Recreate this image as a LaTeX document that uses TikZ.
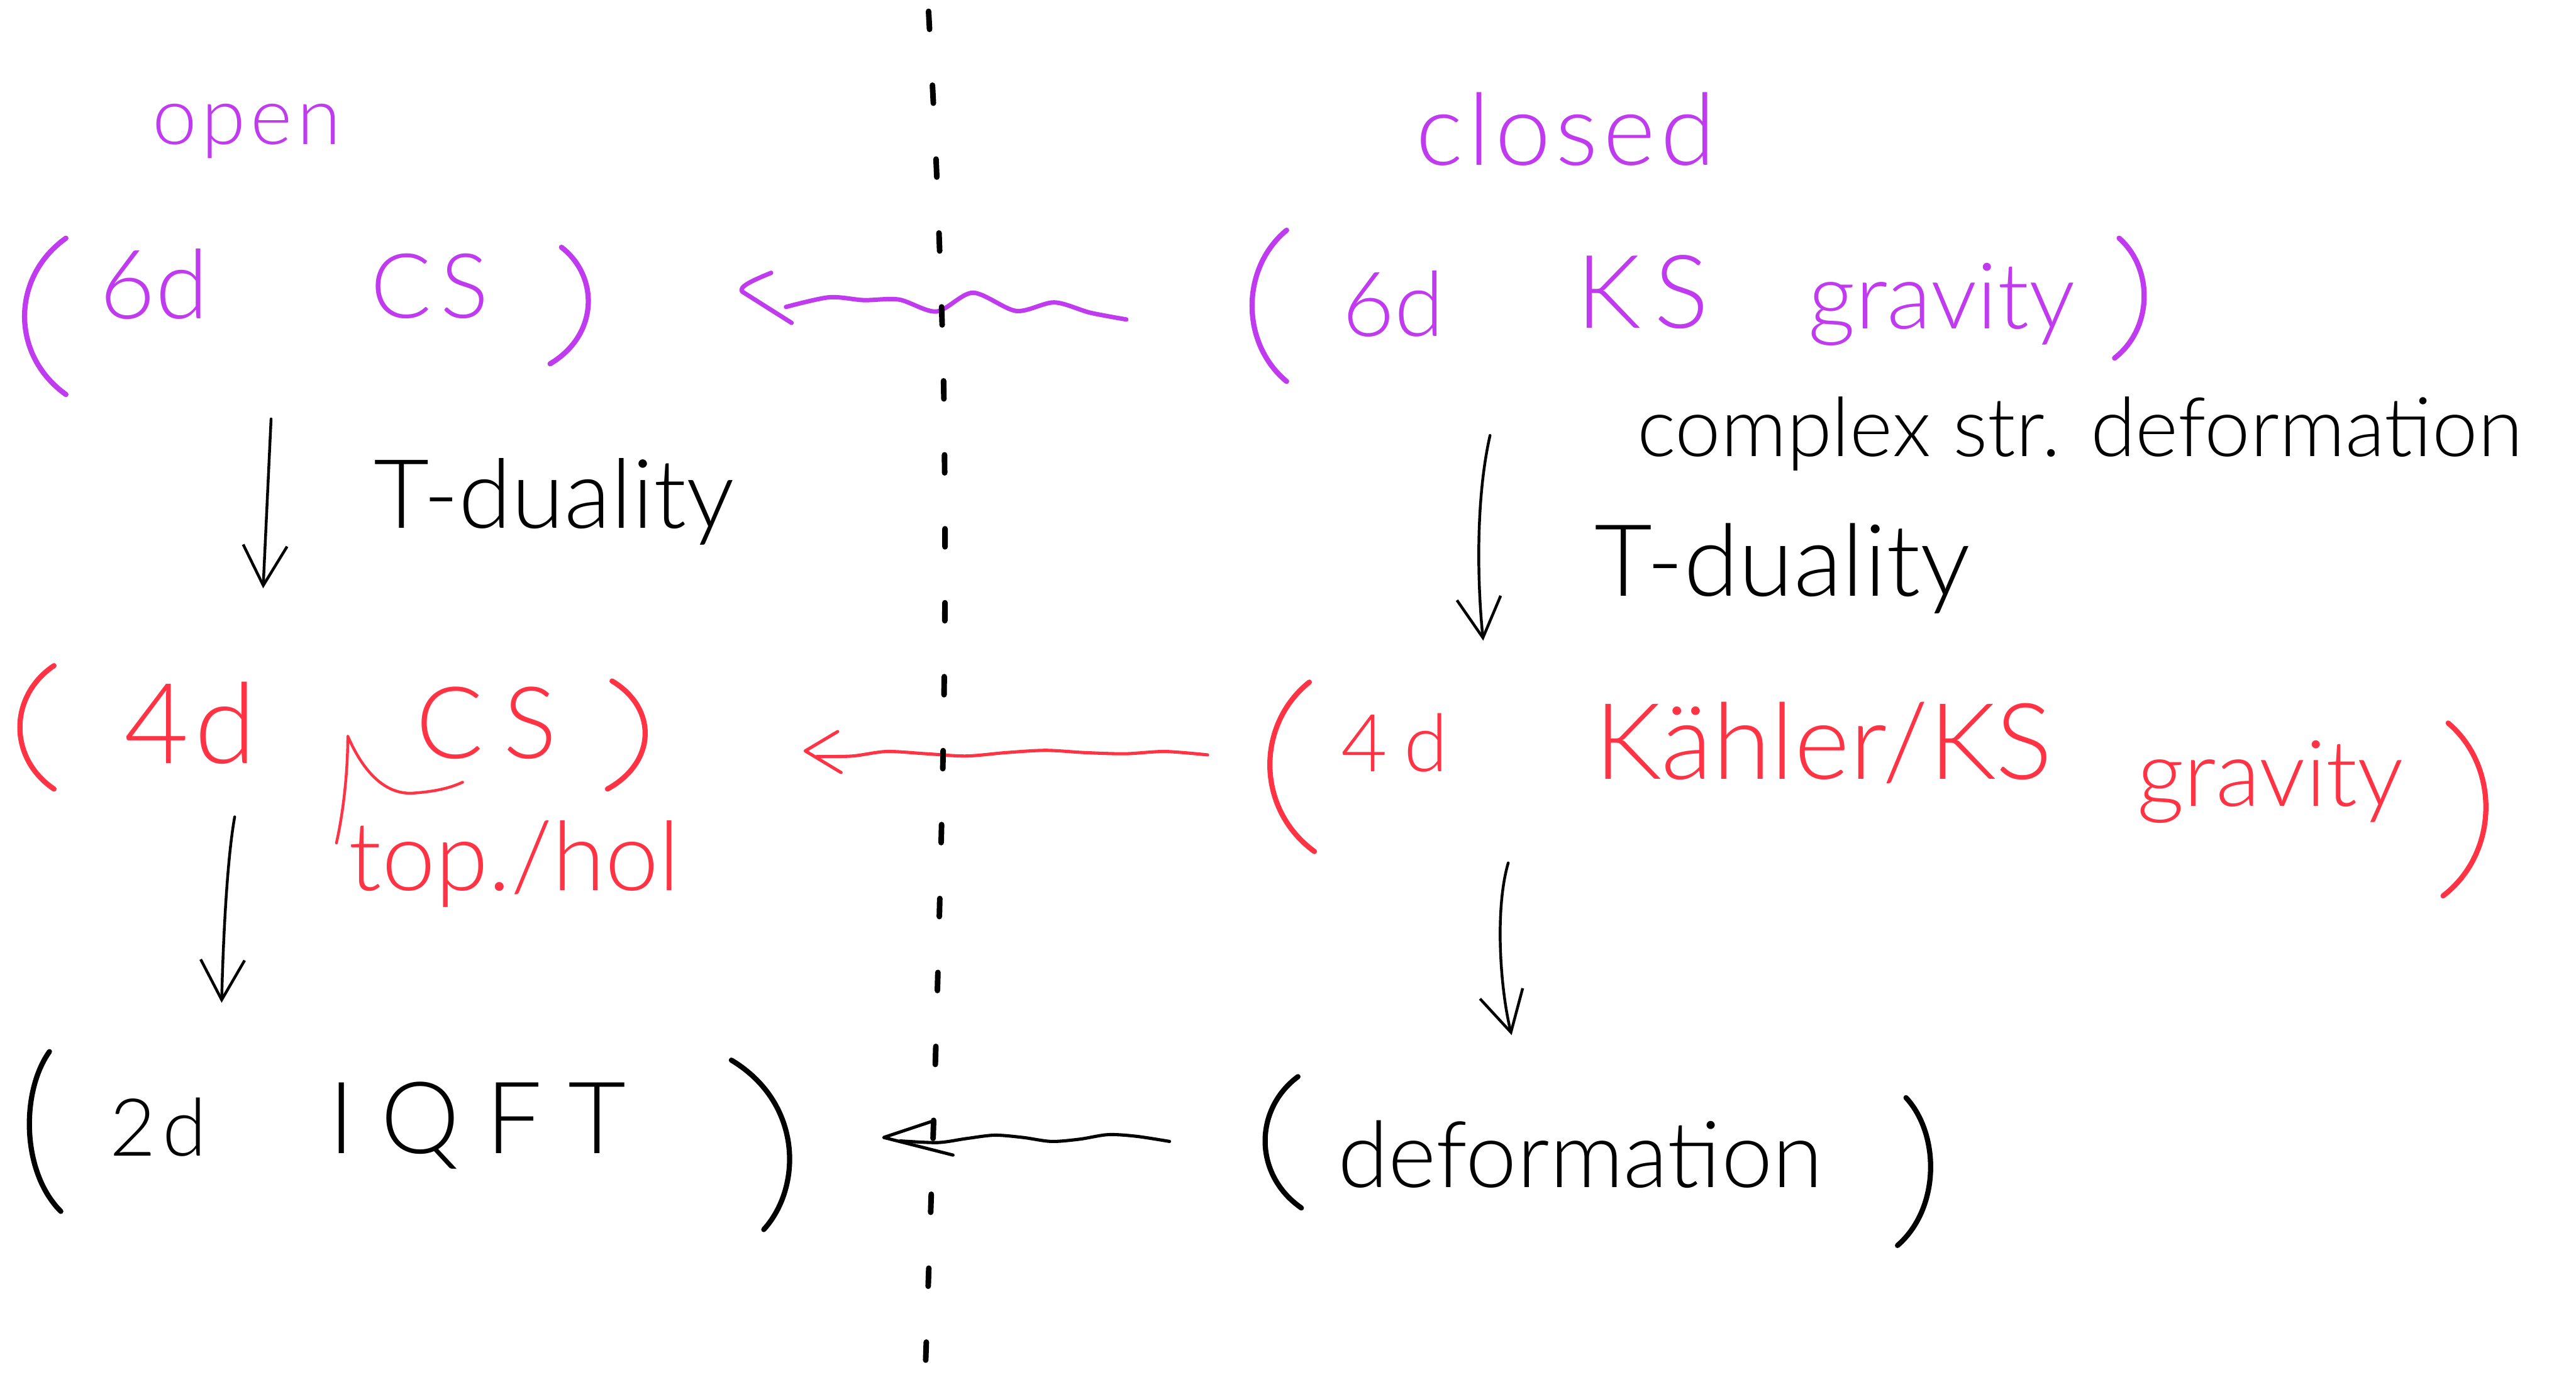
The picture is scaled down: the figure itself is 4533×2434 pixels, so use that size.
\documentclass[tikz,border=0pt]{standalone}
\usepackage{fontspec}
\setmainfont{Lato Light}
\usetikzlibrary{arrows.meta}
\definecolor{pur}{HTML}{C03AF0}
\definecolor{rd}{HTML}{FF3344}
\newcommand\fsz[1]{\fontsize{#1pt}{#1pt}\selectfont}
\newcommand\lsp[1]{\addfontfeature{LetterSpace=#1}}
\begin{document}
\begin{tikzpicture}[x=0.01cm,y=-0.01cm,
  lbl/.style={inner sep=0pt, outer sep=0pt, anchor=center},
  paren/.style={line width=2.6pt, line cap=round},
  wave/.style={line width=1.6pt, line cap=round, line join=round},
  darrow/.style={line width=1.4pt, line cap=round, -{Straight Barb[length=20pt,width=22pt,line width=1.4pt]}},
  dline/.style={line width=2.8pt, line cap=round, dash pattern=on 9pt off 28pt},
]
\useasboundingbox[fill=white] (0,0) rectangle (4533,2434);

% headings
\node[lbl,pur,font=\fsz{40}\lsp{6}] (open) at (434,231) {open};
\node[lbl,pur,font=\fsz{50}\lsp{5}] (closed) at (2755,227) {closed};

% row 1 left (purple)
\draw[paren,pur] (116,419) .. controls (19,488) and (19,625) .. (116,694);
\node[lbl,pur,font=\fsz{48}] (sixdL) at (271,500) {6d};
\node[lbl,pur,font=\fsz{45}\lsp{10}] (csL) at (756,503) {CS};
\draw[paren,pur] (988,435) .. controls (1054,486) and (1054,589) .. (968,640);

% row 1 right (purple)
\draw[paren,pur] (2264,405) .. controls (2183,472) and (2183,604) .. (2264,671);
\node[lbl,pur,font=\fsz{45}] (sixdR) at (2452,535) {6d};
\node[lbl,pur,font=\fsz{51}\lsp{13}] (ks) at (2891,514) {KS};
\node[lbl,pur,font=\fsz{46}] (grav1) at (3417,535) {gravity};
\draw[paren,pur] (3729,419) .. controls (3789,472) and (3789,577) .. (3721,630);

% row 2 left (red)
\draw[paren,rd] (95,1171) .. controls (15,1225) and (15,1334) .. (95,1388);
\node[lbl,rd,font=\fsz{56}\lsp{5}] (fourdL) at (335,1272) {4d};
\node[lbl,rd,font=\fsz{50}\lsp{20}] (csR) at (856,1272) {CS};
\draw[paren,rd] (1077,1198) .. controls (1156,1245) and (1156,1340) .. (1069,1388);
\node[lbl,rd,font=\fsz{48}] (tophol) at (905,1520) {top./hol};
\coordinate (hk1) at (592,1483);
\coordinate (hk2) at (814,1376);
\draw[rd,line width=1.4pt,line cap=round,line join=round] (hk1) .. controls (606,1420) and (612,1350) .. (612,1295) .. controls (640,1360) and (680,1400) .. (730,1395) .. controls (770,1392) and (795,1385) .. (hk2);

% row 2 right (red)
\draw[paren,rd] (2304,1200) .. controls (2210,1275) and (2210,1423) .. (2313,1498);
\node[lbl,rd,font=\fsz{40}\lsp{20}] (fourdR) at (2454,1307) {4d};
\node[lbl,rd,font=\fsz{53}] (kahler) at (3209,1307) {Kähler/KS};
\node[lbl,rd,font=\fsz{46}] (grav2) at (3995,1376) {gravity};
\draw[paren,rd] (4308,1272) .. controls (4398,1348) and (4398,1500) .. (4299,1576);

% row 3 left (black)
\draw[paren] (87,1850) .. controls (37,1920) and (37,2061) .. (107,2131);
\node[lbl,font=\fsz{40}\lsp{8}] (twod) at (278,1983) {2d};
\node[lbl,font=\fsz{50}\lsp{26}] (iqft) at (840,1980) {IQFT};
\draw[paren] (1287,1865) .. controls (1412,1940) and (1412,2088) .. (1344,2163);

% row 3 right (black)
\draw[paren] (2284,1894) .. controls (2206,1952) and (2206,2067) .. (2290,2125);
\node[lbl,font=\fsz{46}] (deform) at (2781,2031) {deformation};
\draw[paren] (3354,1931) .. controls (3414,1996) and (3414,2126) .. (3339,2191);

% vertical labels
\node[lbl,font=\fsz{48}] (tdL) at (975,882) {T-duality};
\node[lbl,font=\fsz{41}] (cplx) at (3660,763) {complex str. deformation};
\node[lbl,font=\fsz{50}] (tdR) at (3137,1000) {T-duality};

% down arrows
\coordinate (a1s) at (477,737);  \coordinate (a1e) at (463,1035);
\coordinate (a2s) at (413,1437); \coordinate (a2e) at (390,1764);
\coordinate (b1s) at (2622,766); \coordinate (b1e) at (2610,1127);
\coordinate (b2s) at (2654,1518);\coordinate (b2e) at (2660,1821);
\draw[darrow] (a1s) -- (a1e);
\draw[darrow] (a2s) .. controls (398,1520) and (392,1680) .. (a2e);
\draw[darrow] (b1s) .. controls (2596,880) and (2600,1030) .. (b1e);
\draw[darrow] (b2s) .. controls (2630,1600) and (2640,1740) .. (b2e);

% wavy arrows
\coordinate (w1s) at (1982,562); \coordinate (w1e) at (1383,540); \coordinate (w1t) at (1306,513);
\draw[wave,pur,line width=2.2pt] plot[smooth] coordinates {(w1s) (1918,550) (1855,532) (1788,547) (1712,515) (1648,548) (1582,527) (1520,528) (1459,523) (w1e)};
\draw[wave,pur,line width=2.2pt] (1357,480) .. controls (1320,495) and (1300,505) .. (w1t) -- (1393,568);

\coordinate (w2s) at (2125,1328); \coordinate (w2e) at (1437,1331); \coordinate (w2t) at (1417,1321);
\draw[wave,rd] plot[smooth] coordinates {(w2s) (2050,1322) (1980,1326) (1910,1324) (1840,1320) (1770,1324) (1700,1330) (1630,1326) (1560,1322) (1500,1330) (w2e)};
\draw[wave,rd] (1474,1287) -- (w2t) -- (1480,1359);

\coordinate (w3s) at (2058,2008); \coordinate (w3e) at (1584,2007); \coordinate (w3t) at (1555,2001);
\draw[wave] plot[smooth] coordinates {(w3s) (2000,1999) (1950,1996) (1900,2004) (1850,2008) (1800,2001) (1750,1997) (1700,2003) (1650,2010) (w3e)};
\draw[wave] (1642,1972) -- (w3t) -- (1677,2032);

% dividing line
\draw[dline] plot[smooth] coordinates {(1634,20) (1648,300) (1660,650) (1663,1000) (1660,1300) (1652,1650) (1642,2000) (1628,2420)};
\end{tikzpicture}
\end{document}
